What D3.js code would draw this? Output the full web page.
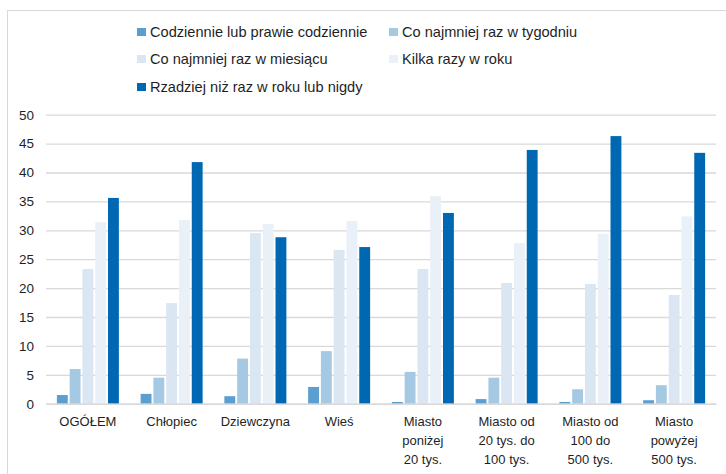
<!DOCTYPE html>
<html><head><meta charset="utf-8">
<script src="https://cdn.jsdelivr.net/npm/d3@7"></script>
<style>body{margin:0;background:#fff}svg{display:block}text{font-family:"Liberation Sans",Arial,sans-serif}</style>
</head><body>
<svg id="c" width="726" height="474"></svg>
<script>
const categories = ["OGÓŁEM","Chłopiec","Dziewczyna","Wieś","Miasto poniżej 20 tys.","Miasto od 20 tys. do 100 tys.","Miasto od 100 do 500 tys.","Miasto powyżej 500 tys."];
const categoryLines = [["OGÓŁEM"],["Chłopiec"],["Dziewczyna"],["Wieś"],["Miasto","poniżej","20 tys."],["Miasto od","20 tys. do","100 tys."],["Miasto od","100 do","500 tys."],["Miasto","powyżej","500 tys."]];
const seriesNames = ["Codziennie lub prawie codziennie","Co najmniej raz w tygodniu","Co najmniej raz w miesiącu","Kilka razy w roku","Rzadziej niż raz w roku lub nigdy"];
const daily   = [1.5, 1.7, 1.3, 2.9, 0.3, 0.8, 0.3, 0.6];
const weekly  = [6.0, 4.5, 7.8, 9.1, 5.5, 4.5, 2.5, 3.2];
const monthly = [23.3, 17.4, 29.5, 26.6, 23.3, 20.9, 20.7, 18.8];
const yearly  = [31.4, 31.8, 31.1, 31.6, 35.9, 27.8, 29.4, 32.4];
const rarely  = [35.6, 41.8, 28.8, 27.1, 33.0, 43.9, 46.3, 43.4];
const yTicks = [0,5,10,15,20,25,30,35,40,45,50];
const colors = ["#5b9fd1","#a6c9e3","#dae6f1","#e9f0f8","#0068b2"];

const seriesValues = [daily, weekly, monthly, yearly, rarely];
const svg = d3.select("#c");
const pLeft = 46, pRight = 716, pTop = 114.7, pBottom = 403.7;

// frame
svg.append("line").attr("x1",7).attr("x2",726).attr("y1",10.5).attr("y2",10.5).attr("stroke","#d9d9d9");
svg.append("line").attr("x1",7.5).attr("x2",7.5).attr("y1",10).attr("y2",474).attr("stroke","#d9d9d9");

const x = d3.scaleBand().domain(categories).range([pLeft,pRight]).paddingInner(0).paddingOuter(0);
const gw = 62;
const xi = d3.scaleBand().domain(seriesNames).range([(x.bandwidth()-gw)/2,(x.bandwidth()+gw)/2]).paddingInner(0.15).paddingOuter(0);
const y = d3.scaleLinear().domain([0,50]).range([pBottom,pTop]);

// grid
const yAxis = d3.axisLeft(y).tickValues(yTicks).tickSize(-(pRight-pLeft)).tickPadding(12);
const gy = svg.append("g").attr("transform",`translate(${pLeft},0)`).call(yAxis);
gy.select(".domain").remove();
gy.selectAll(".tick line").attr("stroke","#d9d9d9").attr("stroke-width",1.3);
gy.selectAll(".tick text").attr("font-size",13.5).attr("fill","#1f1f1f").attr("x",-12);

// bars
seriesValues.forEach((vals,si)=>{
  svg.append("g").selectAll("rect").data(vals).join("rect")
    .attr("x",(d,i)=>x(categories[i])+xi(seriesNames[si]))
    .attr("width",xi.bandwidth())
    .attr("y",d=>y(d))
    .attr("height",d=>y(0)-y(d))
    .attr("fill",colors[si]);
});

// x axis
const xAxis = d3.axisBottom(x).tickSize(0).tickFormat("");
const gx = svg.append("g").attr("transform",`translate(0,${pBottom})`).call(xAxis);
gx.select(".domain").attr("stroke","#d9d9d9").attr("stroke-width",1.5);
gx.selectAll(".tick").each(function(d,i){
  const t = d3.select(this).append("text").attr("text-anchor","middle").attr("fill","#1f1f1f").attr("font-size",13);
  categoryLines[i].forEach((ln,j)=>{
    t.append("tspan").attr("x",0).attr("y",22+j*19).text(ln);
  });
});

// legend
const legendPos = [[137,32],[389,32],[137,59],[389,59],[137,87]];
seriesNames.forEach((n,i)=>{
  const [lx,ly] = legendPos[i];
  svg.append("rect").attr("x",lx).attr("y",ly-4).attr("width",9).attr("height",8).attr("fill",colors[i]);
  svg.append("text").attr("x",lx+13).attr("y",ly).attr("dy","0.35em").attr("font-size",14.6).attr("fill","#1f1f1f").text(n);
});
</script>
</body></html>
